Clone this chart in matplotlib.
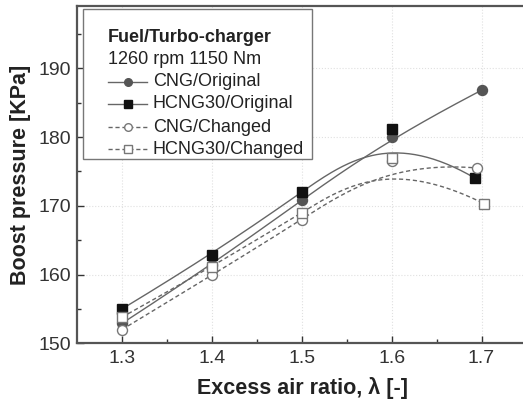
import numpy as np
import matplotlib
matplotlib.use("Agg")
import matplotlib.pyplot as plt
from matplotlib.lines import Line2D
from matplotlib.patches import Rectangle

plt.rcParams['font.family'] = ['Liberation Sans', 'DejaVu Sans']

x_cng_orig = [1.3, 1.4, 1.5, 1.6, 1.7]
y_cng_orig = [152.9, 161.4, 170.9, 180.0, 186.8]
x_h_orig = [1.3, 1.4, 1.5, 1.6, 1.693]
y_h_orig = [155.0, 162.9, 172.0, 181.1, 174.0]
x_cng_chg = [1.3, 1.4, 1.5, 1.6, 1.695]
y_cng_chg = [152.0, 159.9, 167.9, 176.5, 175.5]
x_h_chg = [1.3, 1.4, 1.5, 1.6, 1.703]
y_h_chg = [153.8, 161.1, 169.0, 177.0, 170.3]

x_ticks = [1.3, 1.4, 1.5, 1.6, 1.7]
y_ticks = [150, 160, 170, 180, 190]
labels = ['CNG/Original', 'HCNG30/Original', 'CNG/Changed', 'HCNG30/Changed']
legend_title = 'Fuel/Turbo-charger'
legend_sub = '1260 rpm 1150 Nm'


def bspline(xs, ys, n=200, k=3):
    P = np.column_stack([xs, ys]).astype(float)
    m = len(P)
    inner = np.linspace(0, 1, m - k + 1)
    t = np.concatenate([[0] * k, inner, [1] * k])
    u = np.linspace(0, 1, n)
    out = []
    for uu in u:
        if uu >= 1:
            i = m - 1
        else:
            i = np.searchsorted(t, uu, side='right') - 1
        d = [P[j].copy() for j in range(i - k, i + 1)]
        for r in range(1, k + 1):
            for j in range(k, r - 1, -1):
                a_den = t[j + 1 + i - r] - t[j + i - k]
                a = 0 if a_den == 0 else (uu - t[j + i - k]) / a_den
                d[j] = (1 - a) * d[j - 1] + a * d[j]
        out.append(d[k])
    out = np.array(out)
    return out[:, 0], out[:, 1]


W, H = 523, 408
fig = plt.figure(figsize=(W / 100, H / 100), dpi=100)
ax = fig.add_axes([77.3 / W, 1 - 343.3 / H, 0.8522 + 0.01, (343.3 - 5.7) / H])

lc = '#666666'
series = [
    (x_cng_orig, y_cng_orig, 'o', '-', '#555555', '#555555'),
    (x_h_orig, y_h_orig, 's', '-', '#111111', '#111111'),
    (x_cng_chg, y_cng_chg, 'o', '--', 'white', '#777777'),
    (x_h_chg, y_h_chg, 's', '--', 'white', '#777777'),
]
for xs, ys, mk, ls, fc, ec in series:
    bx, by = bspline(xs, ys)
    ax.plot(bx, by, ls, color=lc, lw=1.0, zorder=2, dashes=(3, 2) if ls == '--' else (None, None))
    ax.plot(xs, ys, linestyle='none', marker=mk, ms=7.2 if mk == 'o' else 6.8,
            mfc=fc, mec=ec, mew=1.0, zorder=3)

ax.set_xlim(1.2502, 1.7468 + 0.0052)
ax.set_ylim(150, 199.1)
ax.set_xticks(x_ticks)
ax.set_xticklabels([f"{v:.1f}" for v in x_ticks])
ax.set_yticks(y_ticks)
ax.set_xticks([1.35, 1.45, 1.55, 1.65], minor=True)
ax.set_yticks([155, 165, 175, 185, 195], minor=True)
ax.tick_params(which='both', direction='in', colors='#333333', labelsize=14,
               labelcolor='#333333')
ax.tick_params(which='major', length=5, width=1.0)
ax.tick_params(which='minor', length=3, width=1.0)
ax.tick_params(axis='x', pad=5)
ax.tick_params(axis='y', pad=4.5)
ax.grid(True, which='major', color='#e0e0e0', linestyle=':', lw=0.8)
for s in ['left', 'bottom', 'top']:
    ax.spines[s].set_color('#555555')
    ax.spines[s].set_linewidth(1.6)
ax.spines['right'].set_visible(False)

ax.set_xlabel('Excess air ratio, λ [-]', fontsize=15.5, fontweight='bold', color='#222222', labelpad=7)
ax.set_ylabel('Boost pressure [KPa]', fontsize=15.5, fontweight='bold', color='#222222', labelpad=5)


# manual legend (pixel layout converted to figure fraction)
def fx(px):
    return px / W


def fy(py):
    return 1 - py / H


fig.patches.append(Rectangle((fx(83.3), fy(159)), fx(312) - fx(83.3), fy(9) - fy(159),
                             transform=fig.transFigure, facecolor='white',
                             edgecolor='#777777', lw=1.0, zorder=5))
fig.text(fx(107.5), fy(37), legend_title, fontsize=13, fontweight='bold', color='#222222',
         va='center', ha='left', zorder=6)
fig.text(fx(107.5), fy(60), legend_sub, fontsize=13, color='#222222',
         va='center', ha='left', zorder=6)
rows = [82, 104, 127, 149]
for (xs, ys, mk, ls, fc, ec), lab, ry in zip(series, labels, rows):
    ln = Line2D([fx(108), fx(147)], [fy(ry), fy(ry)], transform=fig.transFigure,
                linestyle=ls, color=lc, lw=1.0, zorder=6,
                dashes=(3, 2) if ls == '--' else (None, None))
    fig.lines.append(ln)
    mkln = Line2D([fx(127.5)], [fy(ry)], transform=fig.transFigure, linestyle='none',
                  marker=mk, ms=5.5 if mk == 'o' else 5.2, mfc=fc, mec=ec, mew=1.0, zorder=7)
    fig.lines.append(mkln)
    fig.text(fx(153), fy(ry), lab, fontsize=13, color='#222222', va='center', ha='left', zorder=6)

fig.savefig('out.png', dpi=100)
